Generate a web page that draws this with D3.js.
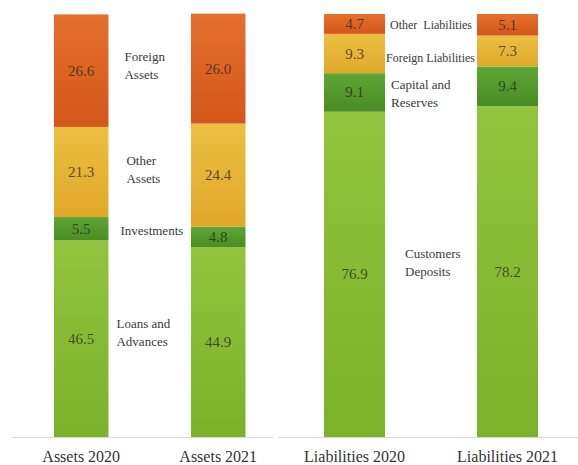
<!DOCTYPE html>
<html>
<head>
<meta charset="utf-8">
<script src="https://cdn.jsdelivr.net/npm/d3@7"></script>
<style>
  html, body { margin: 0; padding: 0; background: #ffffff; }
  svg { display: block; }
  text { font-family: "Liberation Serif", "DejaVu Serif", serif; }
</style>
</head>
<body>
<svg id="chart" width="578" height="465"></svg>
<script>
// Balance sheet composition (% of total)
const assetCategories = ["Assets 2020", "Assets 2021"];
const assetSeries = ["Loans and Advances", "Investments", "Other Assets", "Foreign Assets"];
const loansAndAdvances = [46.5, 44.9];
const investments = [5.5, 4.8];
const otherAssets = [21.3, 24.4];
const foreignAssets = [26.6, 26.0];

const liabilityCategories = ["Liabilities 2020", "Liabilities 2021"];
const liabilitySeries = ["Customers Deposits", "Capital and Reserves", "Foreign Liabilities", "Other  Liabilities"];
const customersDeposits = [76.9, 78.2];
const capitalAndReserves = [9.1, 9.4];
const foreignLiabilities = [9.3, 7.3];
const otherLiabilities = [4.7, 5.1];

// Multi-line series labels drawn in the gap between the bars
const assetLabelLines = [["Loans and", "Advances"], ["Investments"], ["Other", "Assets"], ["Foreign", "Assets"]];
const liabilityLabelLines = [["Customers", "Deposits"], ["Capital and", "Reserves"], ["Foreign Liabilities"], ["Other  Liabilities"]];

const svg = d3.select("#chart");
const defs = svg.append("defs");

// Vertical gradient per stack level (bottom to top)
const palette = [
  { id: "g-light", top: "#92c43e", bottom: "#7cb12a" },
  { id: "g-dark",  top: "#5ea635", bottom: "#4a8c25" },
  { id: "g-gold",  top: "#ecbf42", bottom: "#e0a82b" },
  { id: "g-orange",top: "#e4702f", bottom: "#d3571a" }
];
palette.forEach(p => {
  const g = defs.append("linearGradient").attr("id", p.id)
    .attr("x1", 0).attr("y1", 0).attr("x2", 0).attr("y2", 1);
  g.append("stop").attr("offset", "0%").attr("stop-color", p.top);
  g.append("stop").attr("offset", "100%").attr("stop-color", p.bottom);
});

const y = d3.scaleLinear().domain([0, 100]).range([437, 14]);

// Label placement tweaks (x from the right edge of the first bar, y shift from segment middle)
const labelStyle = {
  "Loans and Advances":   { dx: 8,  dy: -6 },
  "Investments":          { dx: 12, dy: 2 },
  "Other Assets":         { dx: 18, dy: -2 },
  "Foreign Assets":       { dx: 16, dy: -5 },
  "Customers Deposits":   { dx: 20, dy: -12 },
  "Capital and Reserves": { dx: 6,  dy: 1 },
  "Foreign Liabilities":  { dx: 1,  dy: 4 },
  "Other  Liabilities":   { dx: 5,  dy: 1 }
};

function drawPanel(cfg) {
  const x = d3.scaleBand()
    .domain(cfg.categories)
    .range(cfg.range)
    .paddingInner(cfg.paddingInner)
    .paddingOuter(cfg.paddingOuter)
    .align(cfg.align);

  const rows = cfg.categories.map((c, i) => {
    const r = { category: c };
    cfg.series.forEach((s, k) => { r[s] = cfg.values[k][i]; });
    return r;
  });
  const stacked = d3.stack().keys(cfg.series)(rows);

  const g = svg.append("g");

  // baseline
  g.append("line")
    .attr("x1", cfg.range[0]).attr("x2", cfg.range[1])
    .attr("y1", 437.5).attr("y2", 437.5)
    .attr("stroke", "#d8d8d8").attr("stroke-width", 1.2);

  const layer = g.selectAll("g.layer").data(stacked).join("g")
    .attr("class", "layer")
    .attr("fill", (d, k) => `url(#${palette[k].id})`);

  layer.selectAll("rect").data(d => d).join("rect")
    .attr("x", d => x(d.data.category))
    .attr("width", x.bandwidth())
    .attr("y", d => y(d[1]))
    .attr("height", d => y(d[0]) - y(d[1]));

  // values inside each segment
  layer.each(function (s) {
    d3.select(this).selectAll("text.val").data(s).join("text")
      .attr("class", "val")
      .attr("x", d => x(d.data.category) + x.bandwidth() / 2)
      .attr("y", d => (y(d[0]) + y(d[1])) / 2 + 5)
      .attr("text-anchor", "middle")
      .attr("font-size", 15)
      .attr("fill", "rgba(45,40,30,0.78)")
      .text(d => d3.format(".1f")(d[1] - d[0]));
  });

  // series names next to the first bar
  const first = cfg.categories[0];
  stacked.forEach((s, k) => {
    const name = cfg.series[k];
    const st = labelStyle[name];
    const seg = s[0];
    const lines = cfg.labelLines[k];
    const mid = (y(seg[0]) + y(seg[1])) / 2 + st.dy;
    const lh = 18;
    const x0 = x(first) + x.bandwidth() + st.dx;
    const t = g.append("text")
      .attr("font-size", cfg.labelSize(lines))
      .attr("fill", "#3a3a3a");
    lines.forEach((ln, j) => {
      t.append("tspan")
        .attr("x", x0)
        .attr("y", mid - (lines.length - 1) * lh / 2 + j * lh + 4.5)
        .attr("xml:space", "preserve")
        .style("white-space", "pre")
        .text(ln);
    });
  });

  // category axis
  const axis = g.append("g")
    .attr("transform", "translate(0,437)")
    .call(d3.axisBottom(x).tickSize(0).tickPadding(14));
  axis.select(".domain").remove();
  axis.selectAll("text")
    .attr("font-size", 16)
    .attr("fill", "#333333")
    .style("font-family", "'Liberation Serif', serif");
}

drawPanel({
  categories: assetCategories,
  series: assetSeries,
  values: [loansAndAdvances, investments, otherAssets, foreignAssets],
  labelLines: assetLabelLines,
  labelSize: () => 13,
  range: [12, 273],
  paddingInner: 0.602,
  paddingOuter: 0.2535,
  align: 0.604
});

drawPanel({
  categories: liabilityCategories,
  series: liabilitySeries,
  values: [customersDeposits, capitalAndReserves, foreignLiabilities, otherLiabilities],
  labelLines: liabilityLabelLines,
  labelSize: lines => lines.length === 1 ? 12 : 13,
  range: [278, 578],
  paddingInner: 0.601,
  paddingOuter: 0.281,
  align: 0.535
});
</script>
</body>
</html>
